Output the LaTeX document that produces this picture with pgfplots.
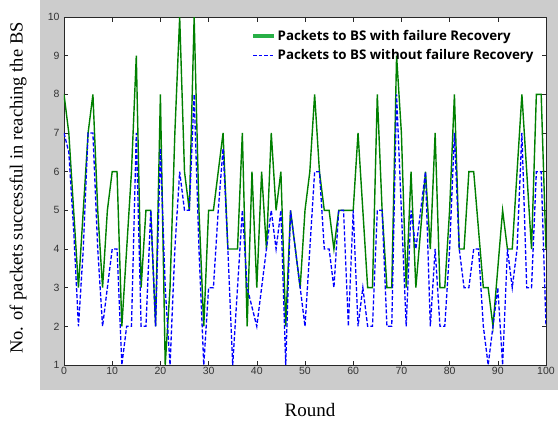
\documentclass[border=0pt]{standalone}
\usepackage{pgfplots}
\pgfplotsset{compat=1.18}
\usepackage{pgfplotstable}
\usepackage{fontspec}
\setmainfont{Liberation Serif}
\newfontfamily\arialf{Liberation Sans}
\newfontfamily\legf{Open Sans}
\definecolor{figgray}{RGB}{204,204,204}
\definecolor{dgreen}{RGB}{0,128,0}
\definecolor{lgreen}{RGB}{40,175,70}
\definecolor{axgray}{RGB}{40,40,40}
\pgfplotstableread{
r v
0 8
1 7
2 5
3 3
4 5
5 7
6 8
7 5
8 3
9 5
10 6
11 6
12 2
13 4
14 6
15 9
16 3
17 5
18 5
19 2
20 8
21 1
22 3
23 7
24 10
25 6
26 5
27 10
28 5
29 2
30 5
31 5
32 6
33 7
34 4
35 4
36 4
37 7
38 2
39 6
40 3
41 6
42 4
43 7
44 5
45 6
46 2
47 5
48 4
49 3
50 5
51 6
52 8
53 6
54 5
55 5
56 4
57 5
58 5
59 5
60 5
61 7
62 5
63 3
64 3
65 8
66 5
67 3
68 3
69 9
70 7
71 3
72 6
73 3
74 4.5
75 6
76 4
77 7
78 3
79 3
80 5
81 8
82 4
83 4
84 6
85 6
86 4.5
87 3
88 3
89 2
90 3.5
91 5
92 4
93 4
94 6
95 8
96 6
97 4
98 8
99 8
100 4
}\greendata
\pgfplotstableread{
r v
0 7
1 6.5
2 4.5
3 2
4 4
5 7
6 7
7 4
8 2
9 3
10 4
11 4
12 1
13 2
14 2
15 7
16 2
17 2
18 5
19 2
20 6.6
21 3
22 1
23 4
24 6
25 5
26 5
27 8
28 4
29 1
30 3
31 3
32 5
33 6.6
34 4
35 1
36 3
37 5
38 3
39 2.5
40 2
41 3
42 4
43 5
44 4
45 5
46 1
47 5
48 4
49 3
50 2
51 4
52 6
53 6
54 4
55 4
56 3
57 5
58 5
59 2
60 5
61 2
62 3
63 2
64 2
65 5
66 5
67 2
68 2
69 8
70 5
71 2
72 5
73 4
74 5
75 6
76 2
77 4
78 2
79 2
80 4
81 7
82 4
83 3
84 3
85 4
86 4
87 2
88 1
89 2
90 3
91 1
92 4
93 3
94 4
95 7
96 3
97 3
98 6
99 6
100 2
}\bluedata
\begin{document}
\begin{tikzpicture}[x=1pt,y=1pt]
\useasboundingbox (-64,-59) rectangle (494,365);
\fill[white] (-64,-59) rectangle (494,365);
\fill[figgray] (-24,-25) rectangle (494,365);
\begin{axis}[at={(0,0)}, anchor=south west,
  width=482pt, height=348pt, scale only axis,
  xmin=0, xmax=100, ymin=1, ymax=10,
  xtick={0,10,...,100}, ytick={1,2,...,10},
  axis background/.style={fill=white},
  axis line style={axgray, line width=0.6pt},
  tick align=inside, major tick length=4.5pt,
  tick style={axgray, line width=0.5pt},
  xtick pos=both, ytick pos=both,
  xticklabel pos=lower, yticklabel pos=left,
  /pgf/number format/assume math mode=true,
  ticklabel style={font=\arialf\fontsize{10.5}{12}\selectfont, text=black!80},
  xticklabel style={yshift=1pt},
  yticklabel style={xshift=-1pt},
  clip=true,
  legend style={at={(0.388,0.968)}, anchor=north west, draw=none, fill=none,
    font=\legf\bfseries\fontsize{13.3}{15}\selectfont, inner sep=0pt,
    row sep=5pt, nodes={inner sep=1.5pt}},
  legend cell align=left,
  legend image code/.code={\draw[#1] (0pt,0pt) -- (21pt,0pt);},
]
\addplot[dgreen, line width=1.4pt, forget plot] table[x=r,y=v] {\greendata};
\addplot[blue, line width=1.3pt, dash pattern=on 4pt off 2pt, forget plot] table[x=r,y=v] {\bluedata};
\addlegendimage{lgreen, line width=4pt}
\addlegendentry{Packets to BS with failure Recovery}
\addlegendimage{blue, line width=0.8pt, dash pattern=on 3.5pt off 2pt}
\addlegendentry{Packets to BS without failure Recovery}
\end{axis}
\node[rotate=90, font=\fontsize{18.5}{20}\selectfont] at (-46,177) {No. of packets successful in reaching the BS};
\node[font=\fontsize{19}{22}\selectfont] at (246,-45) {Round};
\end{tikzpicture}
\end{document}
